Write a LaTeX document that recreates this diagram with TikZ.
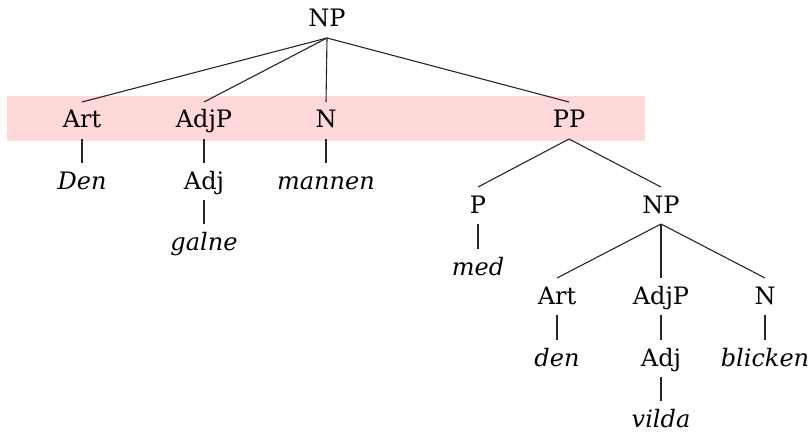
\documentclass[tikz,border=0pt]{standalone}
\usepackage{fontspec}
\setmainfont{DejaVu Serif}
\begin{document}
\begin{tikzpicture}[x=1pt,y=-1pt,
  lab/.style={anchor=base,inner sep=0pt,outer sep=0pt,text height=26pt,text depth=11pt,
    font=\fontsize{24}{28}\selectfont},
  word/.style={lab,font=\fontsize{24}{28}\selectfont\itshape},
  edge/.style={draw=black!85,line width=1.1pt}]
\useasboundingbox (0,0) rectangle (810,433);
\fill[red!15] (7,96) rectangle (645,141);
\node[lab] (np) at (327,27) {NP};
\node[lab] (art) at (82,128) {Art};
\node[lab] (adjp) at (204,128) {AdjP};
\node[lab] (n) at (326,128) {N};
\node[lab] (pp) at (569,128) {PP};
\node[word] (den) at (82,189) {Den};
\node[lab] (adj) at (204,189) {Adj};
\node[word] (mannen) at (326,189) {mannen};
\node[word] (galne) at (204,250) {galne};
\node[lab] (p) at (478,213) {P};
\node[lab] (np2) at (661,213) {NP};
\node[word] (med) at (478,275) {med};
\node[lab] (art2) at (557,304) {Art};
\node[lab] (adjp2) at (661,304) {AdjP};
\node[lab] (n2) at (765,304) {N};
\node[word] (den2) at (557,366) {den};
\node[lab] (adj2) at (661,366) {Adj};
\node[word] (blicken) at (765,366) {blicken};
\node[word] (vilda) at (661,427) {vilda};
\foreach \a/\b in {np/art,np/adjp,np/n,np/pp,art/den,adjp/adj,adj/galne,n/mannen,
  pp/p,pp/np2,p/med,np2/art2,np2/adjp2,np2/n2,art2/den2,adjp2/adj2,adj2/vilda,n2/blicken}
  \draw[edge] (\a.south) -- (\b.north);
\end{tikzpicture}
\end{document}
